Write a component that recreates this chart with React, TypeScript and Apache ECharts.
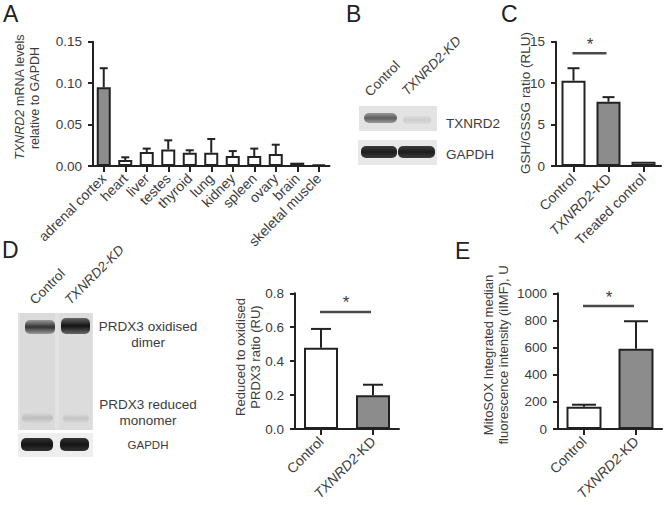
import React, { useEffect, useRef } from "react";
import * as echarts from "echarts";

// ---------- data ----------
const tissues = ["adrenal cortex", "heart", "liver", "testes", "thyroid", "lung", "kidney", "spleen", "ovary", "brain", "skeletal muscle"];
const tissueMean = [0.095, 0.0072, 0.017, 0.02, 0.016, 0.016, 0.012, 0.012, 0.0145, 0.004, 0.0016];
const tissueErr = [0.023, 0.0033, 0.004, 0.011, 0.003, 0.0166, 0.006, 0.009, 0.0112, 0, 0.0004];
const tissueTicks = [0, 0.05, 0.1, 0.15];

const gshCats = ["Control", "TXNRD2-KD", "Treated control"];
const gshMean = [10.3, 7.76, 0.52];
const gshErr = [1.5, 0.55, 0];
const gshTicks = [0, 5, 10, 15];
const gshSig = [0, 13.6, 1];

const prdxCats = ["Control", "TXNRD2-KD"];
const prdxMean = [0.479, 0.199];
const prdxErr = [0.111, 0.062];
const prdxTicks = [0, 0.2, 0.4, 0.6, 0.8];
const prdxSig = [0, 0.69, 1];

const mitoCats = ["Control", "TXNRD2-KD"];
const mitoMean = [164, 592];
const mitoErr = [15, 202];
const mitoTicks = [0, 200, 400, 600, 800, 1000];
const mitoSig = [0, 906, 1];

const grayCats = ["adrenal cortex", "TXNRD2-KD"];

// ---------- style ----------
const FONT = '"Liberation Sans", Arial, Helvetica, sans-serif';
const TEXT = "#3c3c3c";
const INK = "#222";
const GRAY = "#8c8c8c";

const rich = {
  i: { fontStyle: "italic", fontSize: 14, color: TEXT, fontFamily: FONT },
  n: { fontSize: 14, color: TEXT, fontFamily: FONT },
};
const fmtCat = (v: string) =>
  v.startsWith("TXNRD2") ? "{i|TXNRD2}{n|" + v.slice(6) + "}" : "{n|" + v + "}";

function xAxis(idx: number, cats: string[]) {
  return {
    type: "category",
    gridIndex: idx,
    data: cats,
    axisLine: { show: true, lineStyle: { color: INK, width: 2 } },
    axisTick: { show: true, alignWithLabel: true, length: 6, lineStyle: { color: INK, width: 2 } },
    axisLabel: { interval: 0, rotate: 45, margin: 10, formatter: fmtCat, rich },
    splitLine: { show: false },
  };
}
function yAxis(idx: number, ticks: number[], dec: number) {
  return {
    type: "value",
    gridIndex: idx,
    min: ticks[0],
    max: ticks[ticks.length - 1],
    interval: ticks[1] - ticks[0],
    axisLine: { show: true, lineStyle: { color: INK, width: 2 } },
    axisTick: { show: true, length: 5, lineStyle: { color: INK, width: 2 } },
    axisLabel: {
      margin: 11,
      fontSize: 13.5,
      color: TEXT,
      fontFamily: FONT,
      formatter: (v: number) => v.toFixed(dec),
    },
    splitLine: { show: false },
  };
}
function bars(idx: number, cats: string[], mean: number[], w: number) {
  return {
    type: "bar",
    xAxisIndex: idx,
    yAxisIndex: idx,
    barWidth: w,
    z: 3,
    data: mean.map((v, i) => ({
      value: v,
      itemStyle: { color: grayCats.includes(cats[i]) ? GRAY : "#fff", borderColor: INK, borderWidth: 2 },
    })),
  };
}
function errs(idx: number, mean: number[], err: number[], cap: number) {
  return {
    type: "custom",
    xAxisIndex: idx,
    yAxisIndex: idx,
    z: 2,
    silent: true,
    data: mean.map((m, i) => [i, m, m + err[i]]),
    renderItem: (_p: any, api: any) => {
      const lo = api.coord([api.value(0), api.value(1)]);
      const hi = api.coord([api.value(0), api.value(2)]);
      if (lo[1] - hi[1] < 1) return { type: "group", children: [] };
      return {
        type: "group",
        children: [
          { type: "line", shape: { x1: lo[0], y1: lo[1], x2: hi[0], y2: hi[1] }, style: { stroke: INK, lineWidth: 2 } },
          { type: "line", shape: { x1: hi[0] - cap, y1: hi[1], x2: hi[0] + cap, y2: hi[1] }, style: { stroke: INK, lineWidth: 2 } },
        ],
      };
    },
  };
}
function sig(idx: number, s: number[]) {
  return {
    type: "custom",
    xAxisIndex: idx,
    yAxisIndex: idx,
    z: 4,
    silent: true,
    data: [s],
    renderItem: (_p: any, api: any) => {
      const a = api.coord([api.value(0), api.value(1)]);
      const b = api.coord([api.value(2), api.value(1)]);
      return {
        type: "group",
        children: [
          { type: "line", shape: { x1: a[0] - 1, y1: a[1], x2: b[0] - 2, y2: b[1] }, style: { stroke: "#4a4a4a", lineWidth: 2.5 } },
          {
            type: "text",
            x: (a[0] + b[0]) / 2 - 1,
            y: a[1] - 9,
            style: { text: "*", fill: TEXT, font: "17px " + FONT, align: "center", verticalAlign: "middle", textAlign: "center", textVerticalAlign: "middle" },
          },
        ],
      };
    },
  };
}

function txt(x: number, y: number, text: string, size: number, opts: any = {}) {
  return {
    type: "text",
    x,
    y,
    rotation: opts.rotation || 0,
    silent: true,
    style: {
      text,
      fill: opts.fill || TEXT,
      font: (opts.italic ? "italic " : "") + size + "px " + FONT,
      align: opts.align || "center",
      verticalAlign: opts.va || "middle",
      textAlign: opts.align || "center",
      textVerticalAlign: opts.va || "middle",
      rich: opts.rich,
    },
  };
}
function richT(size: number) {
  return {
    i: { fontStyle: "italic", fontSize: size, fill: TEXT, color: TEXT, fontFamily: FONT },
    n: { fontSize: size, fill: TEXT, color: TEXT, fontFamily: FONT },
  };
}
function rect(x: number, y: number, w: number, h: number, fill: any, r: number = 0) {
  return { type: "rect", silent: true, shape: { x, y, width: w, height: h, r }, style: { fill } };
}
function band(x: number, y: number, w: number, h: number, edge: string, core: string) {
  return rect(x, y, w, h, {
    type: "linear", x: 0, y: 0, x2: 0, y2: 1,
    colorStops: [
      { offset: 0, color: edge },
      { offset: 0.5, color: core },
      { offset: 1, color: edge },
    ],
  }, Math.min(h / 2, 5));
}

const R90 = Math.PI / 2;
const R45 = Math.PI / 4;

const graphics = [
  // panel letters
  txt(3, 14, "A", 23, { align: "left", fill: INK }),
  txt(346, 14, "B", 23, { align: "left", fill: INK }),
  txt(501, 14, "C", 23, { align: "left", fill: INK }),
  txt(2, 250, "D", 23, { align: "left", fill: INK }),
  txt(455, 251, "E", 23, { align: "left", fill: INK }),
  // y-axis titles
  txt(20, 97, "{i|TXNRD2}{n| mRNA levels}", 12.5, { rotation: R90, rich: richT(12.5) }),
  txt(35, 98, "relative to GAPDH", 12.5, { rotation: R90 }),
  txt(525, 103, "GSH/GSSG ratio (RLU)", 13.5, { rotation: R90 }),
  txt(240, 357, "Reduced to oxidised", 13, { rotation: R90 }),
  txt(255, 357, "PRDX3 ratio (RU)", 13, { rotation: R90 }),
  txt(488, 355, "MitoSOX Integrated median", 13, { rotation: R90 }),
  txt(503, 355, "fluorescence intensity (iIMF), U", 13, { rotation: R90 }),
  // ---- panel B blot ----
  txt(372, 99, "Control", 13.5, { rotation: R45, align: "left", va: "bottom" }),
  txt(409, 98, "TXNRD2-KD", 13.5, { rotation: R45, align: "left", va: "bottom", italic: true }),
  rect(359, 106, 78, 25, "#e3e3e3"),
  band(364, 113, 33, 10, "#9a9a9a", "#5e5e5e"),
  band(403, 116, 28, 8, "#dadada", "#cfcfcf"),
  rect(358, 140, 79, 25, "#e8e8e8"),
  band(361, 146, 36, 12, "#3c3c3c", "#1c1c1c"),
  band(398, 146, 37, 12, "#3c3c3c", "#1c1c1c"),
  txt(446, 123, "TXNRD2", 13.5, { align: "left" }),
  txt(446, 154, "GAPDH", 13.5, { align: "left" }),
  // ---- panel D blot ----
  txt(37, 307, "Control", 13.5, { rotation: R45, align: "left", va: "bottom" }),
  txt(72, 307, "TXNRD2-KD", 13.5, { rotation: R45, align: "left", va: "bottom", italic: true }),
  rect(18, 313, 75, 117, "#e2e2e2"),
  rect(20, 313, 35, 117, "#dadada"),
  rect(59, 313, 33, 117, "#dcdcdc"),
  band(25, 320, 30, 14, "#9a9a9a", "#333"),
  band(61, 318, 29, 16, "#666", "#121212"),
  band(22, 413, 31, 10, "#d6d6d6", "#bdbdbd"),
  band(63, 414, 26, 9, "#d8d8d8", "#c6c6c6"),
  rect(18, 433, 75, 24, "#eeeeee"),
  band(21, 438, 32, 13, "#333", "#141414"),
  band(60, 438, 29, 13, "#333", "#141414"),
  txt(148, 326, "PRDX3 oxidised", 13.5),
  txt(148, 342, "dimer", 13.5),
  txt(148, 404, "PRDX3 reduced", 13.5),
  txt(148, 420, "monomer", 13.5),
  txt(148, 445, "GAPDH", 11.5),
];

export default function App() {
  const ref = useRef<HTMLDivElement>(null);
  useEffect(() => {
    document.body.style.margin = "0";
    const chart = echarts.init(ref.current!, undefined, { renderer: "svg" });
    chart.setOption({
      animation: false,
      backgroundColor: "#fff",
      textStyle: { fontFamily: FONT },
      grid: [
        { left: 93, top: 41.7, width: 236.5, height: 124.3, outerBoundsMode: "none", containLabel: false },
        { left: 556, top: 41.7, width: 105, height: 124.3, outerBoundsMode: "none", containLabel: false },
        { left: 295, top: 293.3, width: 104, height: 135.7, outerBoundsMode: "none", containLabel: false },
        { left: 558, top: 293.3, width: 104, height: 135.7, outerBoundsMode: "none", containLabel: false },
      ],
      xAxis: [xAxis(0, tissues), xAxis(1, gshCats), xAxis(2, prdxCats), xAxis(3, mitoCats)],
      yAxis: [yAxis(0, tissueTicks, 2), yAxis(1, gshTicks, 0), yAxis(2, prdxTicks, 1), yAxis(3, mitoTicks, 0)],
      series: [
        bars(0, tissues, tissueMean, 14),
        errs(0, tissueMean, tissueErr, 4),
        bars(1, gshCats, gshMean, 24),
        errs(1, gshMean, gshErr, 6),
        sig(1, gshSig),
        bars(2, prdxCats, prdxMean, 34),
        errs(2, prdxMean, prdxErr, 10),
        sig(2, prdxSig),
        bars(3, mitoCats, mitoMean, 35),
        errs(3, mitoMean, mitoErr, 12),
        sig(3, mitoSig),
      ],
      graphic: graphics,
    });
    return () => chart.dispose();
  }, []);
  return <div ref={ref} style={{ position: "absolute", left: 0, top: 0, width: 664, height: 505, background: "#fff" }} />;
}
